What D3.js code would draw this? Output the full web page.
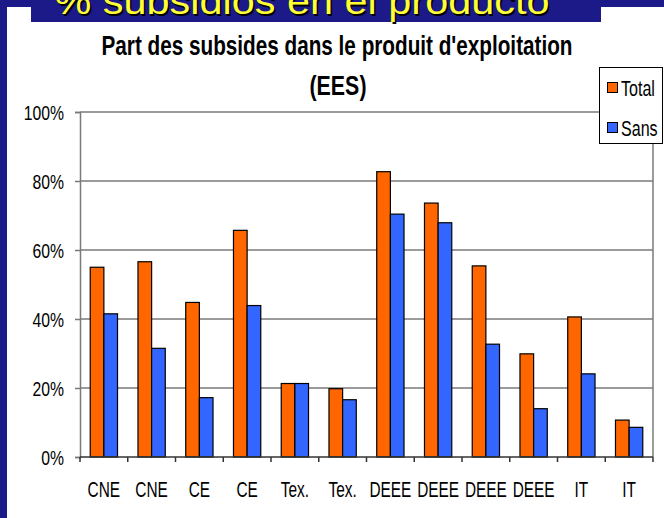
<!DOCTYPE html>
<html>
<head>
<meta charset="utf-8">
<script src="https://d3js.org/d3.v7.min.js"></script>
<style>
  body { margin: 0; background: #1b1a88; }
  svg { display: block; }
  text { font-family: "Liberation Sans", Arial, sans-serif; }
</style>
</head>
<body>
<svg width="664" height="518"></svg>
<script>
// categories (labels repeat, so the scale works on indexes)
var categories = ["CNE", "CNE", "CE", "CE", "Tex.", "Tex.", "DEEE", "DEEE", "DEEE", "DEEE", "IT", "IT"];
var seriesNames = ["Total", "Sans"];
var totalValues = [0.55, 0.566, 0.448, 0.657, 0.213, 0.198, 0.827, 0.736, 0.554, 0.299, 0.406, 0.107];
var sansValues  = [0.415, 0.315, 0.172, 0.439, 0.213, 0.166, 0.704, 0.679, 0.327, 0.14, 0.241, 0.086];
var yTicks = [0, 0.2, 0.4, 0.6, 0.8, 1];
var colors = ["#ff6600", "#3366ff"];

var svg = d3.select("svg");

// squeeze text horizontally, the original uses a narrow font
function squeeze(sel, f) {
  sel.each(function() {
    var w = this.getComputedTextLength();
    d3.select(this).attr("textLength", w * f).attr("lengthAdjust", "spacingAndGlyphs");
  });
}

// slide background
svg.append("rect").attr("width", 664).attr("height", 518).attr("fill", "#1b1a88");
svg.append("rect").attr("x", 7).attr("y", 7).attr("width", 657).attr("height", 511).attr("fill", "#fff");
svg.append("rect").attr("x", 31).attr("y", 0).attr("width", 570).attr("height", 22).attr("fill", "#1b1a88");
[["#000", 1.5], ["#ffff33", 0]].forEach(function(s) {
  svg.append("text")
      .attr("x", 302 + s[1]).attr("y", 14 + s[1])
      .attr("text-anchor", "middle")
      .attr("font-size", 36)
      .attr("fill", s[0])
      .attr("textLength", 495)
      .attr("lengthAdjust", "spacingAndGlyphs")
      .text("% subsidios en el producto");
});

// chart title
var title = svg.append("text")
    .attr("text-anchor", "middle")
    .attr("font-weight", "bold")
    .attr("font-size", 27)
    .attr("fill", "#000");
title.append("tspan").attr("x", 337).attr("y", 55)
    .attr("textLength", 471).attr("lengthAdjust", "spacingAndGlyphs")
    .text("Part des subsides dans le produit d'exploitation");
title.append("tspan").attr("x", 338).attr("y", 95)
    .attr("textLength", 57).attr("lengthAdjust", "spacingAndGlyphs")
    .text("(EES)");

var margin = {left: 80, right: 653, top: 112, bottom: 457};

var x0 = d3.scaleBand()
    .domain(d3.range(categories.length))
    .range([margin.left, margin.right])
    .paddingInner(0.4286)
    .paddingOuter(0.2143);

var x1 = d3.scaleBand()
    .domain(seriesNames)
    .range([0, x0.bandwidth()]);

var y = d3.scaleLinear()
    .domain([0, 1])
    .range([margin.bottom, margin.top]);

// gridlines
svg.append("g")
  .selectAll("line")
  .data(yTicks.slice(1))
  .enter().append("line")
    .attr("x1", margin.left).attr("x2", margin.right)
    .attr("y1", function(d) { return y(d); })
    .attr("y2", function(d) { return y(d); })
    .attr("stroke", "#7a7a7a")
    .attr("stroke-width", 1.5);

// right border of plot area
svg.append("line")
    .attr("x1", margin.right).attr("x2", margin.right)
    .attr("y1", margin.top).attr("y2", margin.bottom)
    .attr("stroke", "#7a7a7a").attr("stroke-width", 1.5);

// bars
var rows = categories.map(function(c, i) {
  return {i: i, values: [totalValues[i], sansValues[i]]};
});

svg.append("g")
  .selectAll("g")
  .data(rows)
  .enter().append("g")
    .attr("transform", function(d) { return "translate(" + x0(d.i) + ",0)"; })
  .selectAll("rect")
  .data(function(d) { return d.values.map(function(v, k) { return {name: seriesNames[k], value: v, k: k}; }); })
  .enter().append("rect")
    .attr("x", function(d) { return x1(d.name); })
    .attr("y", function(d) { return y(d.value); })
    .attr("width", x1.bandwidth())
    .attr("height", function(d) { return y(0) - y(d.value); })
    .attr("fill", function(d) { return colors[d.k]; })
    .attr("stroke", "#000")
    .attr("stroke-width", 1.2);

// y axis
var yAxis = svg.append("g")
    .attr("transform", "translate(" + margin.left + ",0)")
    .call(d3.axisLeft(y)
      .tickValues(yTicks)
      .tickSizeOuter(0)
      .tickSize(5)
      .tickPadding(11)
      .tickFormat(d3.format(".0%")));
yAxis.selectAll("text")
    .attr("font-size", 21).attr("font-family", null)
    .attr("fill", "#000").attr("dy", "0.36em")
    .call(squeeze, 0.75);
yAxis.selectAll("line, path").attr("stroke", "#7a7a7a").attr("stroke-width", 1.5);

// x axis, ticks between categories
var xAxisG = svg.append("g");
xAxisG.append("line")
    .attr("x1", margin.left).attr("x2", margin.right)
    .attr("y1", margin.bottom).attr("y2", margin.bottom)
    .attr("stroke", "#333").attr("stroke-width", 1.5);
var step = x0.step();
xAxisG.selectAll(".tk")
  .data(d3.range(categories.length + 1))
  .enter().append("line")
    .attr("class", "tk")
    .attr("x1", function(d) { return margin.left + d * step; })
    .attr("x2", function(d) { return margin.left + d * step; })
    .attr("y1", margin.bottom).attr("y2", margin.bottom + 5)
    .attr("stroke", "#333").attr("stroke-width", 1.5);
xAxisG.selectAll(".lbl")
  .data(categories)
  .enter().append("text")
    .attr("class", "lbl")
    .attr("x", function(d, i) { return x0(i) + x0.bandwidth() / 2; })
    .attr("y", 497)
    .attr("text-anchor", "middle")
    .attr("font-size", 22)
    .attr("fill", "#000")
    .text(function(d) { return d; })
    .call(squeeze, 0.7);

// legend
var legend = svg.append("g");
legend.append("rect")
    .attr("x", 599.5).attr("y", 67.5).attr("width", 63).attr("height", 76)
    .attr("fill", "#fff").attr("stroke", "#000").attr("stroke-width", 1);
seriesNames.forEach(function(name, k) {
  legend.append("rect")
      .attr("x", 607.5).attr("y", 82.5 + k * 40).attr("width", 10).attr("height", 10)
      .attr("fill", colors[k]).attr("stroke", "#000").attr("stroke-width", 1);
  legend.append("text")
      .attr("x", 621).attr("y", 96 + k * 40)
      .attr("font-size", 22)
      .attr("fill", "#000")
      .text(name)
      .call(squeeze, 0.73);
});
</script>
</body>
</html>
